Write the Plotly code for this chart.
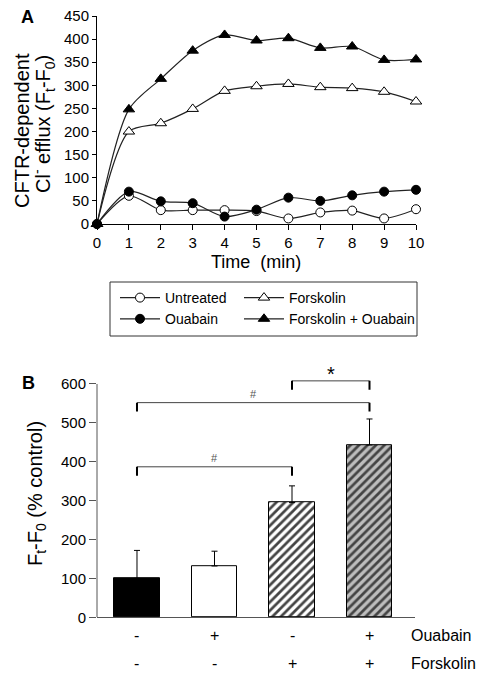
import plotly.graph_objects as go

# ---------------- Data ----------------
time_min = [0, 1, 2, 3, 4, 5, 6, 7, 8, 9, 10]
untreated = [0, 61, 30, 30, 30, 28, 12, 25, 29, 12, 32]
ouabain = [0, 70, 49, 45, 16, 31, 57, 50, 62, 70, 74]
forskolin = [0, 200, 218, 249, 288, 298, 303, 296, 294, 286, 265]
forsk_ouab = [0, 248, 314, 375, 409, 397, 402, 381, 384, 355, 356]

bar_pos = [0, 1, 2, 3]
bar_values = [100, 132, 295, 443]
bar_err_up = [72, 38, 43, 67]
ouabain_labels = ["-", "+", "-", "+"]
forskolin_labels = ["-", "-", "+", "+"]
brackets = [(0, 2, 387, "#"), (0, 3, 552, "#"), (2, 3, 608, "*")]

FONT = "Liberation Sans, Arial, sans-serif"
W, H = 489, 681

def px(x):
    return x / W

def py(y):
    return 1 - y / H

fig = go.Figure()

line_col = "#222222"
series = [
    ("Untreated", untreated, "circle", "white", 9, "legend"),
    ("Ouabain", ouabain, "circle", "black", 9, "legend"),
    ("Forskolin", forskolin, "triangle-up", "white", 10, "legend2"),
    ("Forskolin + Ouabain", forsk_ouab, "triangle-up", "black", 10, "legend2"),
]
for name, vals, sym, fill, sz, leg in series:
    fig.add_trace(go.Scatter(
        x=time_min, y=vals, name=name, mode="lines+markers", legend=leg,
        line=dict(color=line_col, width=1.2, shape="spline", smoothing=0.8),
        marker=dict(symbol=sym, size=sz, color=fill, line=dict(color="black", width=1)),
        cliponaxis=False, xaxis="x", yaxis="y",
    ))

# Bars
fig.add_trace(go.Bar(
    x=bar_pos, y=bar_values, width=0.59, showlegend=False,
    xaxis="x2", yaxis="y2",
    marker=dict(
        color=["black", "white", "white", "#bdbdbd"],
        line=dict(color="black", width=1),
        pattern=dict(shape=["", "", "/", "/"], fgcolor="black", fgopacity=1,
                     size=6, solidity=0.45, fillmode="overlay"),
    ),
    error_y=dict(type="data", symmetric=False, array=bar_err_up,
                 arrayminus=[0, 0, 0, 0], color="black", thickness=1, width=3),
))

shapes = []
annotations = []

def note(x, y, text, size, xref="paper", yref="paper", angle=0, xanchor="center",
         color="black", yshift=0):
    annotations.append(dict(xref=xref, yref=yref, x=x, y=y, text=text, textangle=angle,
                            xanchor=xanchor, yanchor="middle", showarrow=False, yshift=yshift,
                            font=dict(family=FONT, size=size, color=color)))

# legend frame
shapes.append(dict(type="rect", xref="paper", yref="paper", x0=px(110), x1=px(417),
                   y0=py(336), y1=py(282), line=dict(color="#333333", width=1)))
# y-axis line of bottom plot only up to 600
shapes.append(dict(type="line", xref="x2 domain", yref="y2", x0=0, x1=0, y0=0, y1=600,
                   line=dict(color="#555555", width=1)))
for x0, x1, yb, lab in brackets:
    shapes.append(dict(type="line", xref="x2", yref="y2", x0=x0, x1=x1, y0=yb, y1=yb,
                       line=dict(color="#444444", width=1)))
    for xv in (x0, x1):
        shapes.append(dict(type="line", xref="x2", yref="y2", x0=xv, x1=xv, y0=yb, y1=yb - 23,
                           line=dict(color="black", width=2)))
    if lab == "#":
        note((x0 + x1) / 2, yb, lab, 11, xref="x2", yref="y2", color="#555555", yshift=9)
    else:
        note((x0 + x1) / 2, yb, lab, 20, xref="x2", yref="y2", yshift=7)

for i, (o, f) in enumerate(zip(ouabain_labels, forskolin_labels)):
    note(bar_pos[i], py(635), o, 16, xref="x2")
    note(bar_pos[i], py(663), f, 16, xref="x2")
note(px(409), py(635), "Ouabain", 16, xanchor="left")
note(px(409), py(663), "Forskolin", 16, xanchor="left")

# Axis titles / panel labels
note(px(22), py(131), "CFTR-dependent", 20, angle=-90)
note(px(44), py(124), "Cl<sup>-</sup> efflux (F<sub>t</sub>-F<sub>0</sub>)", 20, angle=-90)
note(px(256), py(262), "Time  (min)", 18)
note(px(36), py(494), "F<sub>t</sub>-F<sub>0</sub> (% control)", 20, angle=-90)
note(px(27), py(17), "<b>A</b>", 18)
note(px(28), py(383), "<b>B</b>", 18)

tickfont = dict(family=FONT, size=15, color="black")
legfont = dict(family=FONT, size=14, color="black")

fig.update_layout(
    template="none",
    width=W, height=H, margin=dict(l=0, r=0, t=0, b=0, pad=0, autoexpand=False),
    paper_bgcolor="white", plot_bgcolor="white",
    font=dict(family=FONT, color="black"),
    bargap=0,
    xaxis=dict(domain=[px(97), px(416)], anchor="y", range=[0, 10], tickvals=time_min,
               showline=True, linecolor="black", linewidth=1, ticks="outside", ticklen=5,
               tickcolor="black", showgrid=False, zeroline=False, tickfont=tickfont,
               automargin=False, ticklabeloverflow="allow"),
    yaxis=dict(domain=[py(224), py(16)], anchor="x", range=[0, 450],
               tickvals=[0, 50, 100, 150, 200, 250, 300, 350, 400, 450],
               showline=True, linecolor="black", linewidth=1, ticks="outside", ticklen=4,
               tickcolor="black", showgrid=False, zeroline=False, tickfont=tickfont,
               automargin=False, ticklabeloverflow="allow"),
    xaxis2=dict(domain=[px(97), px(415)], anchor="y2", range=[-0.516, 3.587],
                showticklabels=False, showline=True, linecolor="#555555", linewidth=1,
                ticks="", showgrid=False, zeroline=False, automargin=False),
    yaxis2=dict(domain=[py(617.3), py(376.2)], anchor="x2", range=[0, 620],
                tickvals=[0, 100, 200, 300, 400, 500, 600],
                showline=False, ticks="outside", ticklen=7, tickcolor="#555555",
                showgrid=False, zeroline=False, tickfont=tickfont, automargin=False,
                ticklabeloverflow="allow"),
    legend=dict(x=px(115), y=py(282), xanchor="left", yanchor="top",
                orientation="v", itemwidth=40, borderwidth=0, bgcolor="rgba(0,0,0,0)",
                font=legfont, traceorder="normal", tracegroupgap=0),
    legend2=dict(x=px(239), y=py(282), xanchor="left", yanchor="top",
                 orientation="v", itemwidth=40, borderwidth=0, bgcolor="rgba(0,0,0,0)",
                 font=legfont, traceorder="normal", tracegroupgap=0),
    shapes=shapes, annotations=annotations,
)

# remove the browser's default 8px page margin so the figure fills the window exactly
fig.write_html("out.html", config={"displayModeBar": False},
               post_script="document.body.style.margin='0px';")
